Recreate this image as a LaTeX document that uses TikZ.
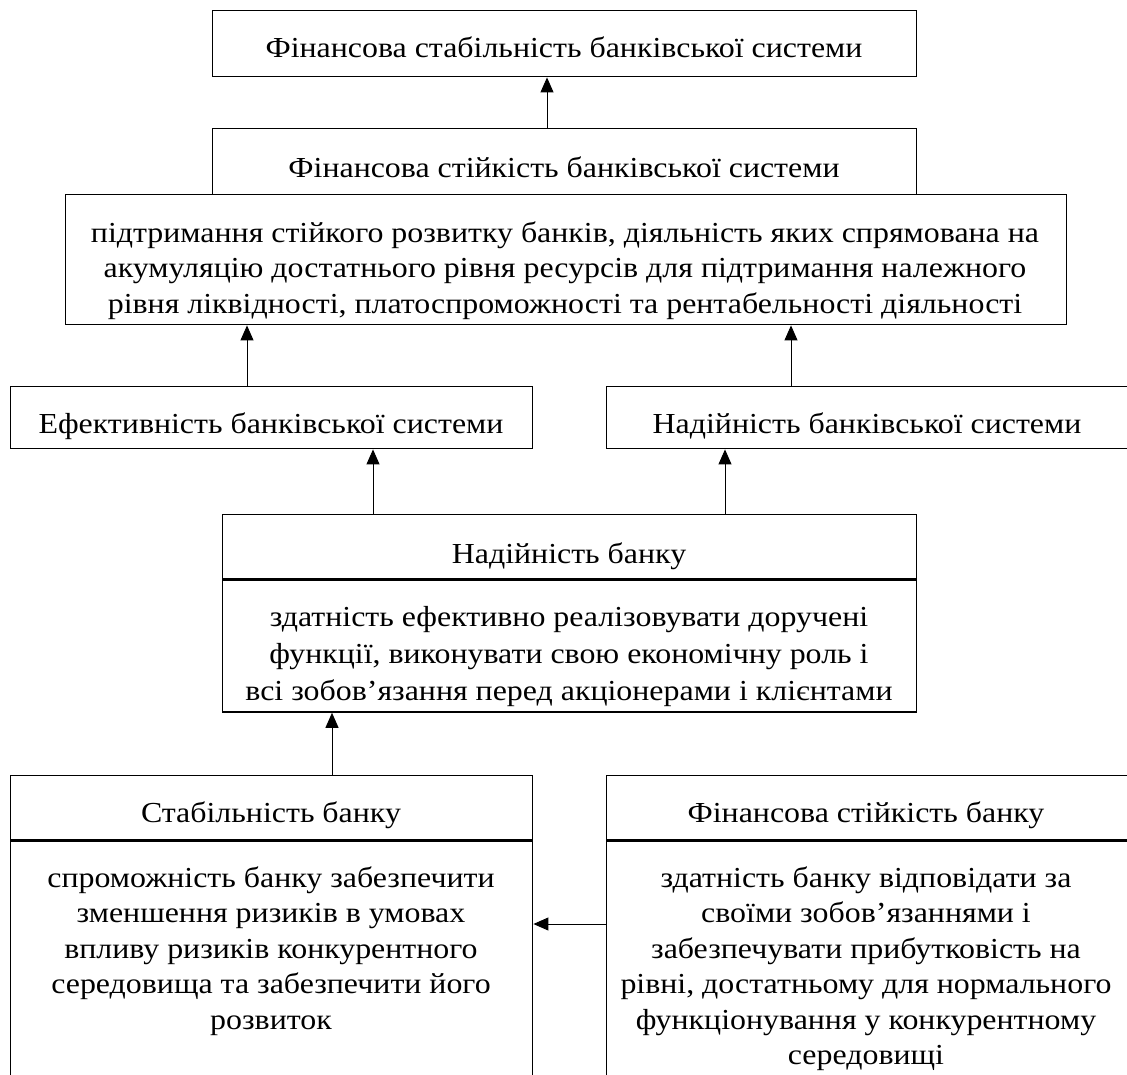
\documentclass[tikz,border=0pt]{standalone}
\usepackage{fontspec}
\setmainfont{Liberation Serif}[FakeStretch=1.10]
\usetikzlibrary{arrows.meta}
\begin{document}
\begin{tikzpicture}[x=1pt,y=-1pt,
  box/.style={draw, line width=1.4pt, inner sep=0pt, anchor=north west},
  txt/.style={inner sep=0pt, align=center, anchor=base, font=\fontsize{29}{35.5}\selectfont},
  arr/.style={line width=0.9pt, -{Triangle[length=15pt,width=13pt]}}]
\useasboundingbox (0,0) rectangle (1127,1074);
\clip (0,0) rectangle (1127,1074);
% boxes
\node[box, minimum width=704pt, minimum height=66pt] (b1) at (212,10) {};
\node[box, minimum width=704pt, minimum height=66pt] (b2) at (212,128) {};
\node[box, fill=white, minimum width=1001pt, minimum height=130pt] (b3) at (65,194) {};
\node[box, minimum width=522pt, minimum height=62pt] (b4) at (10,386) {};
\node[box, minimum width=540pt, minimum height=62pt] (b5) at (606,386) {};
\node[box, minimum width=694pt, minimum height=64pt] (b6) at (222,514) {};
\node[box, minimum width=694pt, minimum height=132pt] (b6b) at (b6.south west) {};
\node[box, minimum width=522pt, minimum height=64pt] (b7) at (10,775) {};
\node[box, minimum width=522pt, minimum height=260pt] (b7b) at (b7.south west) {};
\node[box, minimum width=540pt, minimum height=64pt] (b8) at (606,775) {};
\node[box, minimum width=540pt, minimum height=260pt] (b8b) at (b8.south west) {};
% texts (anchor=base is the baseline of the last line)
\node[txt] (t1) at (564,57) {Фінансова стабільність банківської системи};
\node[txt] (t2) at (564,177) {Фінансова стійкість банківської системи};
\node[txt] (t3) at (565,313) {підтримання стійкого розвитку банків, діяльність яких спрямована на\\акумуляцію достатнього рівня ресурсів для підтримання належного\\рівня ліквідності, платоспроможності та рентабельності діяльності};
\node[txt] (t4) at (271,433) {Ефективність банківської системи};
\node[txt] (t5) at (867,433) {Надійність банківської системи};
\node[txt] (t6) at (569,563) {Надійність банку};
\node[txt, font=\fontsize{29}{37}\selectfont] (t6b) at (569,700) {здатність ефективно реалізовувати доручені\\функції, виконувати свою економічну роль і\\всі зобов’язання перед акціонерами і клієнтами};
\node[txt] (t7) at (271,822) {Стабільність банку};
\node[txt] (t7b) at (271,1029) {спроможність банку забезпечити\\зменшення ризиків в умовах\\впливу ризиків конкурентного\\середовища та забезпечити його\\розвиток};
\node[txt] (t8) at (866,822) {Фінансова стійкість банку};
\node[txt] (t8b) at (866,1064.5) {здатність банку відповідати за\\своїми зобов’язаннями і\\забезпечувати прибутковість на\\рівні, достатньому для нормального\\функціонування у конкурентному\\середовищі};
% connectors
\draw[arr] ([xshift=335pt]b2.north west) -- ([xshift=335pt]b1.south west);
\draw[arr] ([xshift=237pt]b4.north west) -- ([xshift=182pt]b3.south west);
\draw[arr] ([xshift=185pt]b5.north west) -- ([xshift=726pt]b3.south west);
\draw[arr] ([xshift=151pt]b6.north west) -- ([xshift=363pt]b4.south west);
\draw[arr] ([xshift=503pt]b6.north west) -- ([xshift=119pt]b5.south west);
\draw[arr] ([xshift=322pt]b7.north west) -- ([xshift=110pt]b6b.south west);
\draw[arr] (b8b.west |- 0,924) -- (b7b.east |- 0,924);
\end{tikzpicture}
\end{document}
